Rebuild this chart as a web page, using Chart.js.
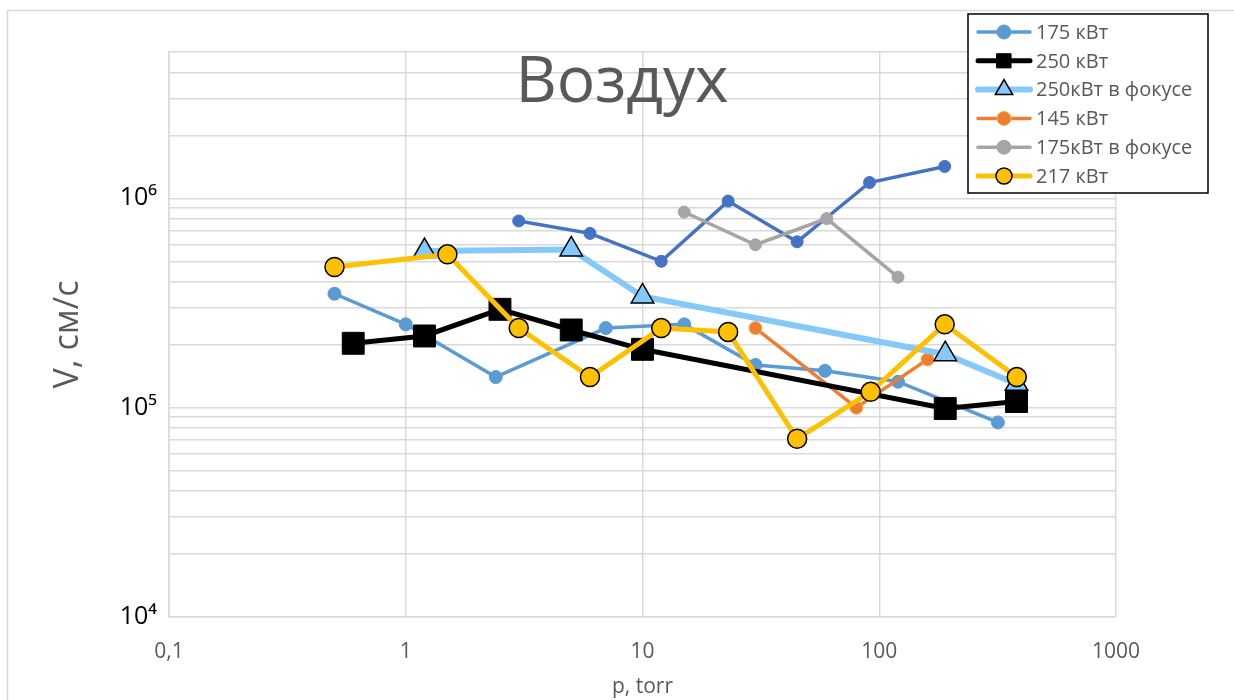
<!DOCTYPE html>
<html>
<head>
<meta charset="utf-8">
<script src="https://cdn.jsdelivr.net/npm/chart.js@4.4.0/dist/chart.umd.min.js"></script>
<style>
  html, body { margin: 0; padding: 0; background: #fff; }
  canvas { display: block; }
</style>
</head>
<body>
<canvas id="air" width="1234" height="700"></canvas>
<script>
// pressure (torr) and speed (cm/s)
const pDark = [3, 6, 12, 23, 45, 91, 189];
const vDark = [7.8e5, 6.8e5, 5.0e5, 9.7e5, 6.2e5, 1.19e6, 1.42e6];

const p175 = [0.5, 1, 2.4, 7, 15, 30, 59, 120, 317];
const v175 = [3.5e5, 2.5e5, 1.4e5, 2.4e5, 2.5e5, 1.6e5, 1.5e5, 1.33e5, 8.5e4];

const p250 = [0.6, 1.2, 2.5, 5, 10, 190, 380];
const v250 = [2.03e5, 2.2e5, 2.95e5, 2.35e5, 1.9e5, 9.9e4, 1.07e5];

const p250f = [1.2, 5, 10, 190, 380];
const v250f = [5.6e5, 5.7e5, 3.4e5, 1.8e5, 1.3e5];

const p145 = [30, 80, 160];
const v145 = [2.4e5, 1.0e5, 1.7e5];

const p175f = [15, 30, 60, 120];
const v175f = [8.6e5, 6.0e5, 8.0e5, 4.2e5];

const p217 = [0.5, 1.5, 3, 6, 12, 23, 45, 92, 189, 381];
const v217 = [4.7e5, 5.4e5, 2.4e5, 1.4e5, 2.4e5, 2.3e5, 7.1e4, 1.19e5, 2.5e5, 1.4e5];

const xTicks = [0.1, 1, 10, 100, 1000];
const xTickLabels = ['0,1', '1', '10', '100', '1000'];
const yMajor = [1e4, 1e5, 1e6];
const yMajorLabels = ['10⁴', '10⁵', '10⁶'];

const FONT = "'Open Sans', 'DejaVu Sans', sans-serif";
const GREY_TEXT = '#595959';
const GRID = '#d9d9d9';

// minor log grid: 1..9 x 10^n between 1e4 and 5e6
const yGrid = [];
for (let e = 4; e <= 6; e++) {
  for (let m = 1; m <= 9; m++) {
    const v = m * Math.pow(10, e);
    if (v <= 5e6) yGrid.push(v);
  }
}

function pts(xs, ys) {
  return xs.map((x, i) => ({ x: x, y: ys[i] }));
}

const datasets = [
  {
    label: '175 кВт', data: pts(p175, v175), order: 5,
    borderColor: '#5b9bd5', borderWidth: 3.5,
    pointStyle: 'circle', pointRadius: 6.5, pointBackgroundColor: '#5b9bd5',
    pointBorderColor: '#5b9bd5', pointBorderWidth: 1, legendRadius: 7
  },
  {
    label: '250 кВт', data: pts(p250, v250), order: 2,
    borderColor: '#000', borderWidth: 5,
    pointStyle: 'rect', pointRadius: 15.5, pointBackgroundColor: '#000',
    pointBorderColor: '#000', pointBorderWidth: 1, legendRadius: 10
  },
  {
    label: '250кВт в фокусе', data: pts(p250f, v250f), order: 3,
    borderColor: '#85c9fa', borderWidth: 6,
    pointStyle: 'triangle', pointRadius: 13, pointBackgroundColor: '#85c9fa',
    pointBorderColor: '#000', pointBorderWidth: 1.5, legendRadius: 10
  },
  {
    label: '145 кВт', data: pts(p145, v145), order: 4,
    borderColor: '#ed7d31', borderWidth: 3.5,
    pointStyle: 'circle', pointRadius: 6.5, pointBackgroundColor: '#ed7d31',
    pointBorderColor: '#f5b041', pointBorderWidth: 1, legendRadius: 7
  },
  {
    label: '175кВт в фокусе', data: pts(p175f, v175f), order: 6,
    borderColor: '#a5a5a5', borderWidth: 3.5,
    pointStyle: 'circle', pointRadius: 6, pointBackgroundColor: '#a5a5a5',
    pointBorderColor: '#a5a5a5', pointBorderWidth: 1, legendRadius: 7
  },
  {
    label: '217 кВт', data: pts(p217, v217), order: 1,
    borderColor: '#ffc000', borderWidth: 5,
    pointStyle: 'circle', pointRadius: 9.5, pointBackgroundColor: '#ffc000',
    pointBorderColor: '#000', pointBorderWidth: 1.5, legendRadius: 8
  },
  {
    label: '', data: pts(pDark, vDark), order: 7, hideInLegend: true,
    borderColor: '#4472c4', borderWidth: 3.5,
    pointStyle: 'circle', pointRadius: 6, pointBackgroundColor: '#4472c4',
    pointBorderColor: '#4472c4', pointBorderWidth: 1
  }
];

// outer frame, big title and the boxed legend
const decor = {
  id: 'decor',
  beforeDraw(chart) {
    const c = chart.ctx;
    c.save();
    c.fillStyle = '#fff';
    c.fillRect(0, 0, chart.width, chart.height);
    c.strokeStyle = GRID;
    c.lineWidth = 1.5;
    c.strokeRect(7.5, 10.5, chart.width - 3, chart.height + 20);
    c.restore();
  },
  afterDraw(chart) {
    const c = chart.ctx;
    const area = chart.chartArea;
    c.save();
    c.fillStyle = GREY_TEXT;
    c.font = '64px ' + FONT;
    c.textAlign = 'center';
    c.textBaseline = 'alphabetic';
    c.fillText('Воздух', chart.width / 2 + 5, area.top + 50);

    const box = { x: 968, y: 14, w: 240, h: 179 };
    c.fillStyle = '#fff';
    c.fillRect(box.x, box.y, box.w, box.h);
    c.strokeStyle = '#000';
    c.lineWidth = 1.5;
    c.strokeRect(box.x, box.y, box.w, box.h);

    const shown = chart.data.datasets.filter(d => !d.hideInLegend);
    shown.forEach((d, i) => {
      const y = box.y + 18 + i * 28.8;
      c.strokeStyle = d.borderColor;
      c.lineWidth = d.borderWidth;
      c.lineCap = 'round';
      c.beginPath();
      c.moveTo(box.x + 10, y);
      c.lineTo(box.x + 62, y);
      c.stroke();
      c.fillStyle = d.pointBackgroundColor;
      c.strokeStyle = d.pointBorderColor;
      c.lineWidth = d.pointBorderWidth;
      Chart.helpers.drawPoint(c, {
        pointStyle: d.pointStyle, radius: d.legendRadius,
        borderWidth: d.pointBorderWidth, rotation: 0
      }, box.x + 36, y);
      c.fillStyle = GREY_TEXT;
      c.font = '20px ' + FONT;
      c.textAlign = 'left';
      c.textBaseline = 'middle';
      c.fillText(d.label, box.x + 68, y + 1);
    });
    c.restore();
  }
};

new Chart(document.getElementById('air'), {
  type: 'line',
  data: { datasets: datasets },
  options: {
    responsive: false,
    animation: false,
    layout: { padding: { left: 0, top: 52, right: 118, bottom: 0 } },
    elements: { line: { tension: 0 } },
    plugins: { legend: { display: false }, tooltip: { enabled: false } },
    scales: {
      x: {
        type: 'logarithmic',
        min: 0.1, max: 1000,
        afterBuildTicks: (s) => { s.ticks = xTicks.map(v => ({ value: v })); },
        afterFit: (s) => { s.height = 83; },
        ticks: {
          autoSkip: false, maxRotation: 0, padding: 22,
          color: GREY_TEXT, font: { family: FONT, size: 21 },
          callback: (v, i) => xTickLabels[i]
        },
        grid: { color: GRID, lineWidth: 1.5, drawTicks: false },
        border: { color: GRID, width: 1.5 },
        title: {
          display: true, text: 'p, torr', color: GREY_TEXT,
          font: { family: FONT, size: 21 }, padding: { top: 0, bottom: 0 }
        }
      },
      y: {
        type: 'logarithmic',
        min: 1e4, max: 5e6,
        afterBuildTicks: (s) => { s.ticks = yGrid.map(v => ({ value: v })); },
        afterFit: (s) => { s.width = 169; },
        ticks: {
          autoSkip: false, padding: 12,
          color: '#000', font: { family: FONT, size: 25 },
          callback: (v) => {
            const k = yMajor.indexOf(v);
            return k >= 0 ? yMajorLabels[k] : '';
          }
        },
        grid: { color: GRID, lineWidth: 1.5, drawTicks: false },
        border: { color: GRID, width: 1.5 },
        title: {
          display: true, text: 'V, см/с', color: GREY_TEXT,
          font: { family: FONT, size: 34 }, padding: { top: 48, bottom: 0 }
        }
      }
    }
  },
  plugins: [decor]
});
</script>
</body>
</html>
